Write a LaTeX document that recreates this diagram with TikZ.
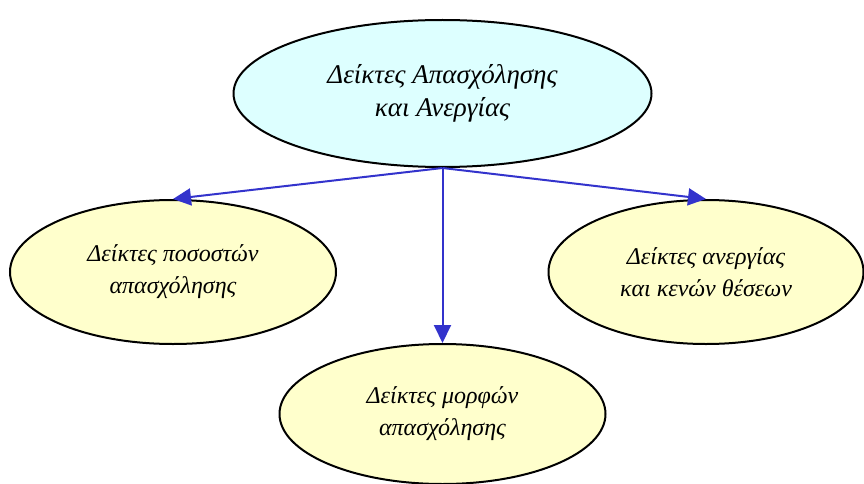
\documentclass[tikz,border=0pt]{standalone}
\usepackage{fontspec}
\setmainfont{Liberation Serif}
\usetikzlibrary{shapes.geometric,arrows.meta}
\definecolor{topfill}{HTML}{DDFFFF}
\definecolor{subfill}{HTML}{FFFFCC}
\definecolor{arrowblue}{HTML}{3333CC}
\tikzset{
  topbox/.style={ellipse, draw=black, line width=2pt, fill=topfill, inner sep=0pt,
    minimum width=418pt, minimum height=147pt, align=center, font=\itshape\fontsize{27}{33}\selectfont},
  subbox/.style={ellipse, draw=black, line width=2pt, fill=subfill, inner sep=0pt,
    align=center, font=\itshape\fontsize{24}{32}\selectfont},
  link/.style={draw=arrowblue, line width=2pt, -{Triangle[length=18pt,width=17pt]}}
}
\begin{document}
\begin{tikzpicture}[x=1pt,y=-1pt]
\useasboundingbox (0,0) rectangle (864,484);
\node[topbox] (top) at (442.5,93.5) {Δείκτες Απασχόλησης\\και Ανεργίας};
\node[subbox, minimum width=326pt, minimum height=144pt] (left) at (173,272) {Δείκτες ποσοστών\\απασχόλησης};
\node[subbox, minimum width=315pt, minimum height=144pt] (right) at (706,272) {Δείκτες ανεργίας\\και κενών θέσεων};
\node[subbox, minimum width=326pt, minimum height=140pt] (bottom) at (442.5,414) {Δείκτες μορφών\\απασχόλησης};
\draw[link] (top.south) -- (left.north);
\draw[link] (top.south) -- (right.north);
\draw[link] (top.south) -- (bottom.north);
\end{tikzpicture}
\end{document}
